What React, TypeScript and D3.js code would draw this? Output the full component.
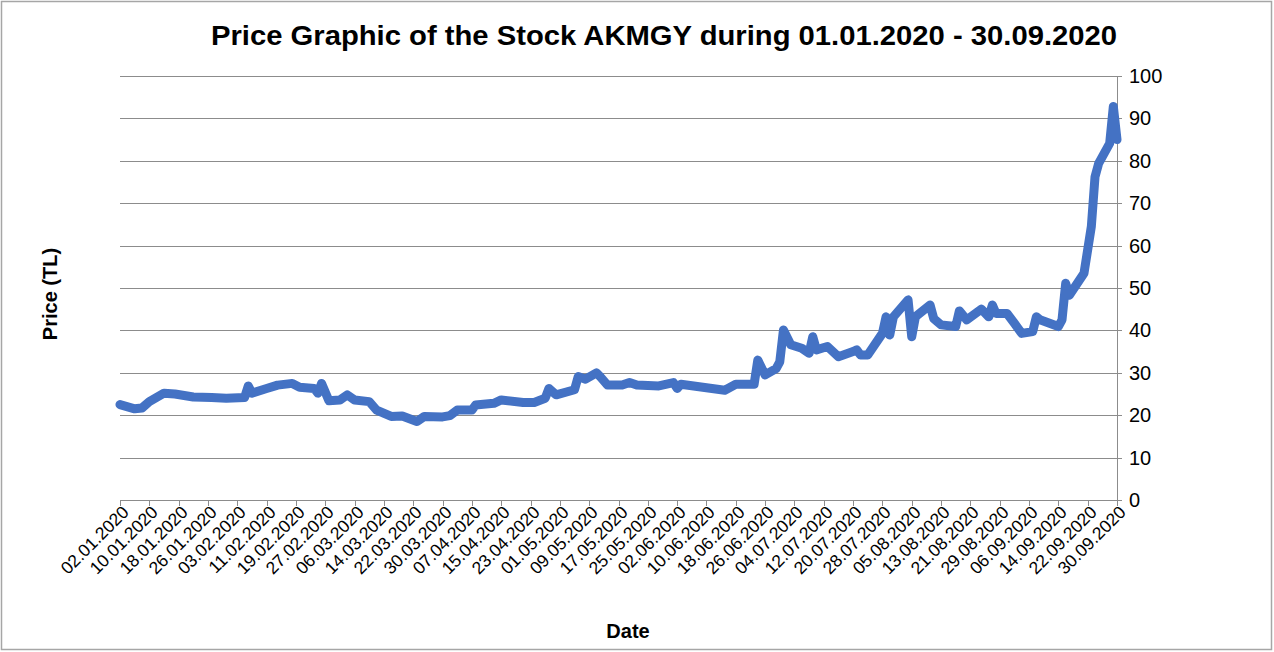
import React from "react";
import * as d3 from "d3";

const title = "Price Graphic of the Stock AKMGY during 01.01.2020 - 30.09.2020";
const yAxisTitle = "Price (TL)";
const xAxisTitle = "Date";

const xTickLabels = [
  "02.01.2020", "10.01.2020", "18.01.2020", "26.01.2020", "03.02.2020", "11.02.2020",
  "19.02.2020", "27.02.2020", "06.03.2020", "14.03.2020", "22.03.2020", "30.03.2020",
  "07.04.2020", "15.04.2020", "23.04.2020", "01.05.2020", "09.05.2020", "17.05.2020",
  "25.05.2020", "02.06.2020", "10.06.2020", "18.06.2020", "26.06.2020", "04.07.2020",
  "12.07.2020", "20.07.2020", "28.07.2020", "05.08.2020", "13.08.2020", "21.08.2020",
  "29.08.2020", "06.09.2020", "14.09.2020", "22.09.2020", "30.09.2020",
];

const yTicks = [0, 10, 20, 30, 40, 50, 60, 70, 80, 90, 100];

const dates = [
  "02.01", "06.01", "08.01", "10.01", "14.01", "17.01", "22.01", "27.01", "31.01",
  "05.02", "06.02", "07.02", "11.02", "14.02", "18.02", "20.02", "24.02", "25.02", "26.02", "28.02",
  "02.03", "04.03", "06.03", "10.03", "12.03", "16.03", "19.03", "23.03", "25.03", "30.03",
  "01.04", "03.04", "07.04", "08.04", "13.04", "15.04", "21.04", "24.04", "27.04", "28.04", "30.04",
  "05.05", "06.05", "08.05", "11.05", "12.05", "14.05", "18.05", "20.05", "22.05", "28.05",
  "01.06", "02.06", "03.06", "08.06", "15.06", "18.06", "23.06", "24.06", "26.06", "29.06", "30.06",
  "01.07", "03.07", "06.07", "08.07", "09.07", "10.07", "13.07", "16.07", "20.07", "21.07", "22.07", "24.07",
  "28.07", "29.07", "30.07", "31.07", "04.08", "05.08", "06.08", "10.08", "11.08", "13.08", "17.08",
  "18.08", "20.08", "24.08", "26.08", "27.08", "28.08", "31.08",
  "02.09", "04.09", "07.09", "08.09", "09.09", "14.09", "15.09", "16.09", "17.09", "21.09",
  "23.09", "24.09", "25.09", "28.09", "29.09", "30.09",
];

const prices = [
  22.5, 21.5, 21.7, 23.2, 25.2, 25.0, 24.3, 24.2, 24.0,
  24.2, 26.9, 25.2, 26.3, 27.1, 27.5, 26.6, 26.3, 25.2, 27.5, 23.4,
  23.6, 24.8, 23.6, 23.2, 21.2, 19.7, 19.8, 18.5, 19.7, 19.6,
  19.9, 21.2, 21.2, 22.4, 22.8, 23.6, 23.0, 23.0, 24.0, 26.3, 24.8,
  26.0, 29.1, 28.5, 30.0, 29.1, 27.1, 27.1, 27.7, 27.1, 26.9,
  27.7, 26.3, 27.3, 26.7, 25.9, 27.3, 27.3, 33.0, 29.5, 31.0, 32.6,
  40.1, 36.6, 35.8, 34.6, 38.5, 35.4, 36.2, 33.8, 35.0, 35.4, 34.2, 34.2,
  39.3, 43.2, 38.9, 43.2, 47.2, 38.5, 43.2, 46.0, 42.8, 41.3, 40.9,
  44.6, 42.5, 45.0, 43.2, 46.0, 44.0, 44.0,
  41.7, 39.3, 39.7, 43.2, 42.5, 40.9, 42.5, 51.1, 48.3, 53.5,
  64.5, 76.2, 79.4, 84.1, 92.8, 85.0,
];

const W = 1274;
const H = 652;
const plot = { left: 120, right: 1117, top: 76, bottom: 500 };
const font = "Arial, 'Liberation Sans', sans-serif";
const gridColor = "#8c8c8c";

const parse = d3.timeParse("%d.%m.%Y");

export default function App() {
  const x = d3
    .scaleTime()
    .domain([parse(xTickLabels[0]) as Date, parse(xTickLabels[xTickLabels.length - 1]) as Date])
    .range([plot.left, plot.right]);
  const y = d3.scaleLinear().domain([0, 100]).range([plot.bottom, plot.top]);

  const data = dates.map((d, i) => ({ date: parse(d + ".2020") as Date, v: prices[i] }));
  const line = d3
    .line<{ date: Date; v: number }>()
    .x((d) => x(d.date))
    .y((d) => y(d.v));

  return (
    <svg
      width={W}
      height={H}
      style={{ position: "absolute", left: 0, top: 0, background: "#fff" }}
      fontFamily={font}
    >
      <rect x={1.5} y={1.5} width={W - 4} height={H - 4} fill="#fff" stroke="#a6a6a6" strokeWidth={1.5} />

      {yTicks.map((t) => (
        <line
          key={"g" + t}
          x1={plot.left}
          x2={plot.right}
          y1={Math.round(y(t)) + 0.5}
          y2={Math.round(y(t)) + 0.5}
          stroke={gridColor}
          strokeWidth={1}
        />
      ))}
      <line x1={plot.right + 0.5} x2={plot.right + 0.5} y1={plot.top} y2={plot.bottom + 5} stroke={gridColor} />
      {yTicks.map((t) => (
        <line
          key={"yt" + t}
          x1={plot.right}
          x2={plot.right + 5}
          y1={Math.round(y(t)) + 0.5}
          y2={Math.round(y(t)) + 0.5}
          stroke={gridColor}
        />
      ))}
      {yTicks.map((t) => (
        <text key={"yl" + t} x={plot.right + 12} y={y(t)} dy="0.35em" fontSize={20} fill="#000">
          {t}
        </text>
      ))}

      {xTickLabels.map((lab) => {
        const px = Math.round(x(parse(lab) as Date)) + 0.5;
        return (
          <g key={lab}>
            <line x1={px} x2={px} y1={plot.bottom} y2={plot.bottom + 6} stroke={gridColor} />
            <text
              transform={`translate(${px + 5},${plot.bottom + 9}) rotate(-45)`}
              textAnchor="end"
              dy="0.35em"
              fontSize={17.5}
              fill="#000"
            >
              {lab}
            </text>
          </g>
        );
      })}

      <path
        d={line(data) || ""}
        fill="none"
        stroke="#4472C4"
        strokeWidth={9}
        strokeLinejoin="round"
        strokeLinecap="round"
      />

      <text x={211} y={45} fontSize={27} fontWeight="bold" textLength={906} lengthAdjust="spacingAndGlyphs">
        {title}
      </text>
      <text
        transform={`translate(57,294) rotate(-90)`}
        textAnchor="middle"
        fontSize={20}
        fontWeight="bold"
      >
        {yAxisTitle}
      </text>
      <text x={628} y={638} textAnchor="middle" fontSize={20} fontWeight="bold">
        {xAxisTitle}
      </text>
    </svg>
  );
}
